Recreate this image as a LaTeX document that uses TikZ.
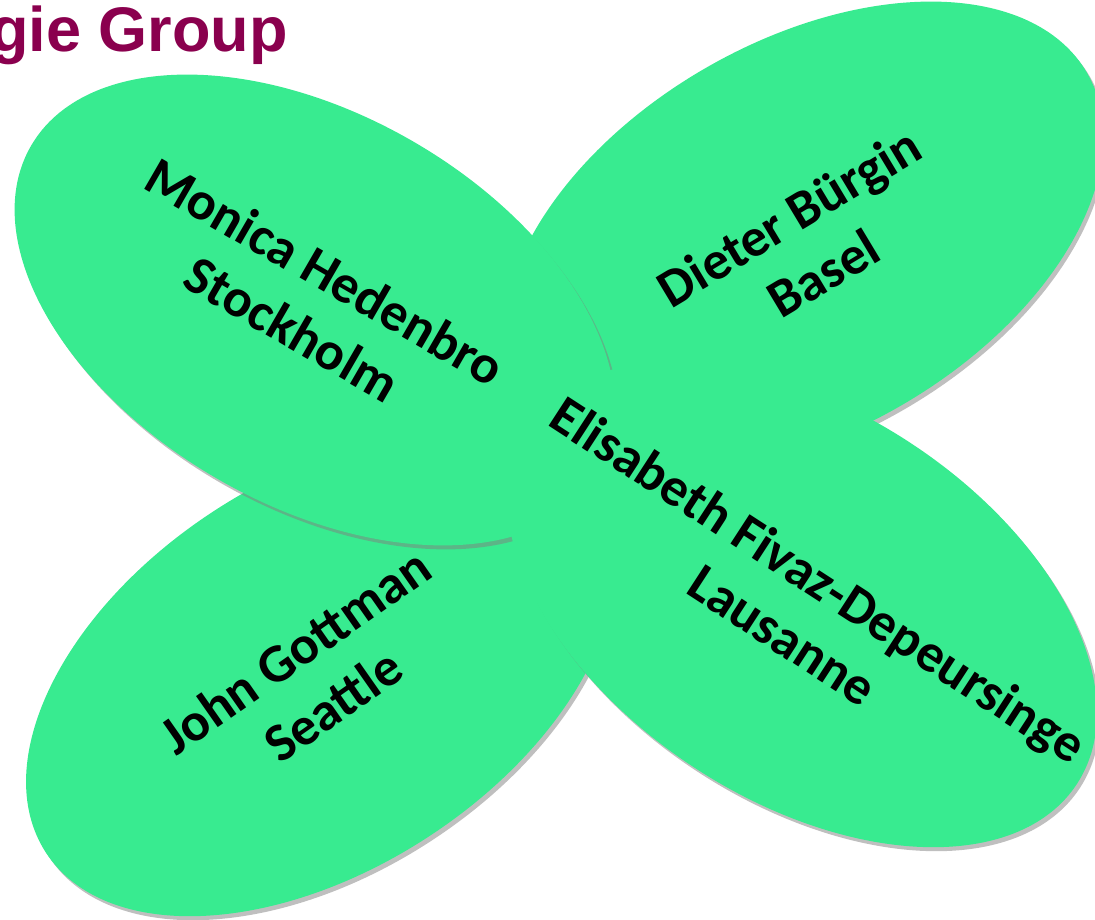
\documentclass[tikz,border=0pt]{standalone}
\usepackage{fontspec}
\setmainfont{Carlito}
\newfontfamily\titlefont{Liberation Sans}
\usetikzlibrary{shapes.geometric,shadows}
\definecolor{petalgreen}{RGB}{56,235,144}
\definecolor{titlered}{RGB}{138,0,78}
\tikzset{
  petal/.style={ellipse, fill=petalgreen, minimum width=328pt, minimum height=195pt, inner sep=0pt,
    drop shadow={shadow xshift=1.5pt, shadow yshift=-2pt, fill=gray, opacity=0.5}},
  who/.style={align=center, font=\fontsize{27}{33}\selectfont\bfseries, inner sep=0pt},
}
\begin{document}
\begin{tikzpicture}[x=0.5pt,y=0.5pt]
      \useasboundingbox (0,0) rectangle (1095,919);
      % title, cut at the left edge
      \node[anchor=base west, inner sep=0pt, text=titlered, font=\titlefont\fontsize{31.5}{36}\selectfont\bfseries] (title) at (-10,867) {gie Group};
      % petals, back to front
      \node[petal, rotate=30] (dieter) at (803,682) {};
      \node[who, rotate=31] (dieter text) at (806,674) {Dieter Bürgin\\Basel};
      \node[petal, rotate=33] (john) at (321,245) {};
      \node[who, rotate=35] (john text) at (314,241) {John Gottman\\Seattle};
      \node[petal, rotate=-30] (monica) at (315,609) {};
      \node[who, rotate=-30] (monica text) at (309,619) {Monica Hedenbro\\Stockholm};
      \node[petal, rotate=-33] (elisabeth) at (802,314) {};
      \node[who, rotate=-33] (elisabeth text) at (801,312) {Elisabeth Fivaz-Depeursinge\\Lausanne};
\end{tikzpicture}
\end{document}
